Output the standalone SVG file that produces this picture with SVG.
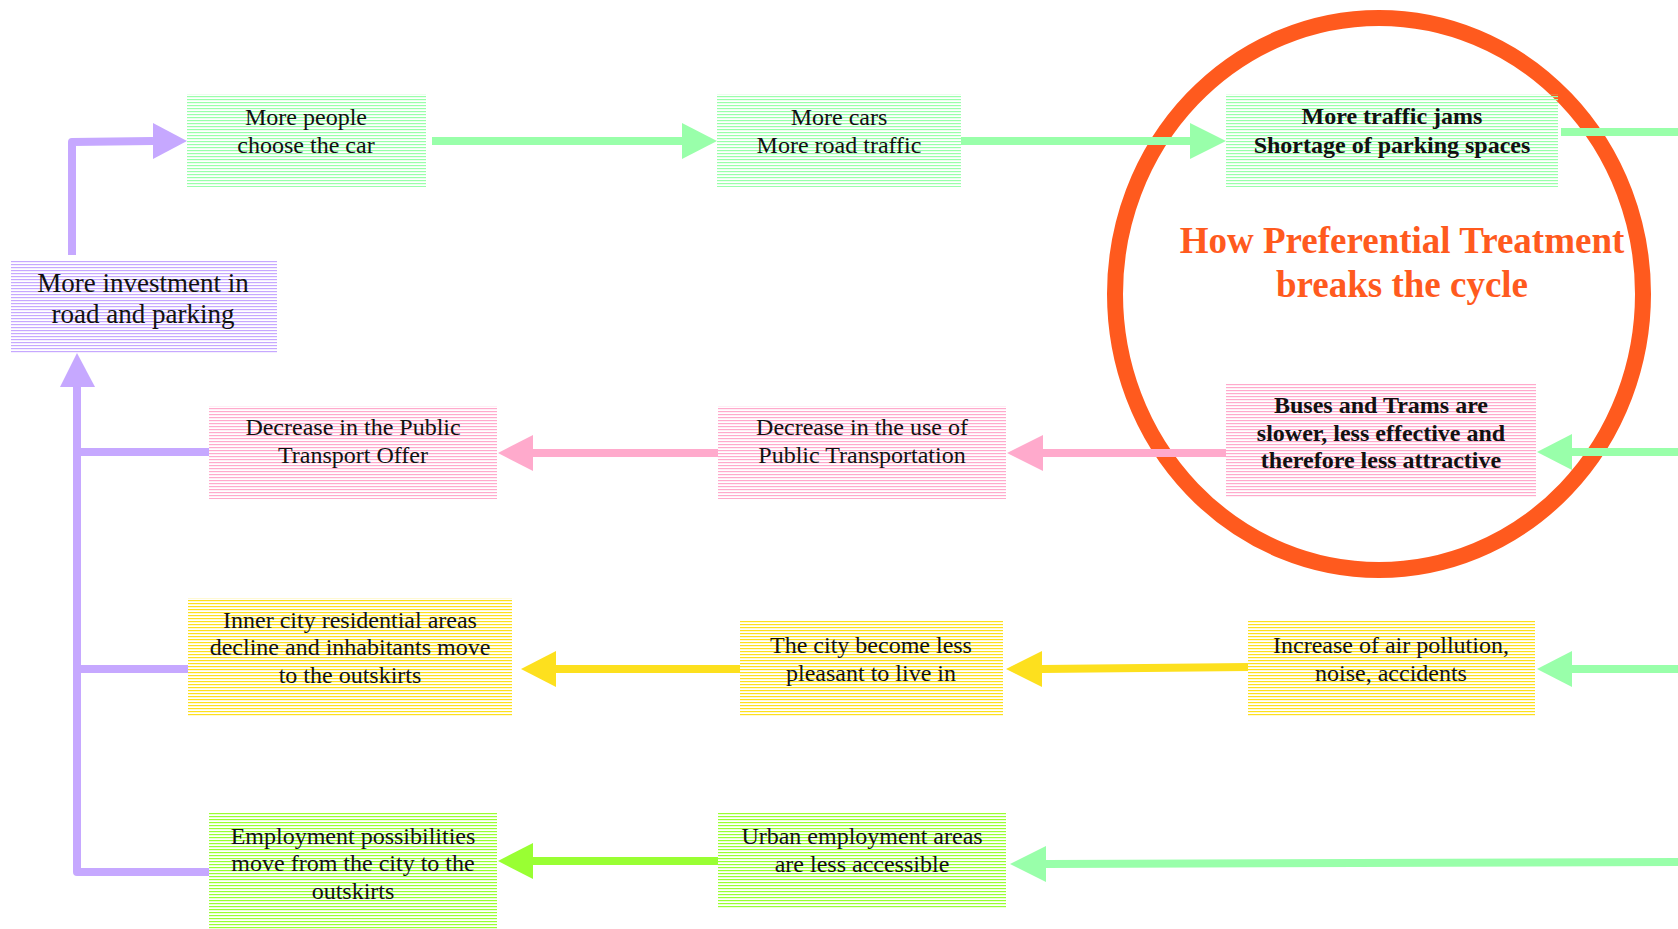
<svg xmlns="http://www.w3.org/2000/svg" width="1678" height="929" viewBox="0 0 1678 929">
<style>
text{font-family:"Liberation Serif","Times New Roman",serif;fill:#111;text-anchor:middle;font-size:24px}
.b{font-weight:bold;font-size:24px}
.big{font-size:27px}
.title{font-weight:bold;font-size:37px;fill:#FF5A1E}
.cg{stroke:#99FFAA;stroke-width:8;fill:none}
.cp{stroke:#FFAACC;stroke-width:8;fill:none}
.cy{stroke:#FDE01E;stroke-width:8;fill:none}
.cc{stroke:#99FF33;stroke-width:8;fill:none}
.cv{stroke:#C6A8FF;stroke-width:8;fill:none;stroke-linejoin:round}
</style>
<defs>
<pattern id="pg" patternUnits="userSpaceOnUse" width="10" height="3"><rect x="0" y="0" width="10" height="1.2" fill="#99FFAA"/></pattern>
<pattern id="pp" patternUnits="userSpaceOnUse" width="10" height="3"><rect x="0" y="0" width="10" height="1.2" fill="#FFAACC"/></pattern>
<pattern id="py" patternUnits="userSpaceOnUse" width="10" height="3"><rect x="0" y="0" width="10" height="1.2" fill="#FDE01E"/></pattern>
<pattern id="pc" patternUnits="userSpaceOnUse" width="10" height="3"><rect x="0" y="0" width="10" height="1.2" fill="#99FF33"/></pattern>
<pattern id="pv" patternUnits="userSpaceOnUse" width="10" height="3"><rect x="0" y="0" width="10" height="1.2" fill="#C6A8FF"/></pattern>
</defs>
<rect width="1678" height="929" fill="#fff"/>
<ellipse id="ring" cx="1379" cy="294" rx="264" ry="276" fill="none" stroke="#FF5A1E" stroke-width="16"/>
<g id="connectors">
<path class="cv" d="M72 255 L72 142 L153 141"/>
<polygon points="153,123 187,141 153,159" fill="#C6A8FF"/>
<path class="cg" d="M432 141 L682 141"/>
<polygon points="682,123 717,141 682,159" fill="#99FFAA"/>
<path class="cg" d="M961 141 L1190 141"/>
<polygon points="1190,123 1226,141 1190,159" fill="#99FFAA"/>
<path class="cg" d="M1561 132 L1678 132"/>
<path class="cg" d="M1678 452 L1572 452"/>
<polygon points="1572,434 1537,452 1572,470" fill="#99FFAA"/>
<path class="cp" d="M1226 453 L1043 453"/>
<polygon points="1043,435 1007,453 1043,471" fill="#FFAACC"/>
<path class="cp" d="M718 453 L533 453"/>
<polygon points="533,435 498,453 533,471" fill="#FFAACC"/>
<path class="cg" d="M1678 669 L1572 669"/>
<polygon points="1572,651 1537,669 1572,687" fill="#99FFAA"/>
<path class="cy" d="M1248 667 L1042 669"/>
<polygon points="1042,651 1006,669 1042,687" fill="#FDE01E"/>
<path class="cy" d="M740 669 L556 669"/>
<polygon points="556,651 521,669 556,687" fill="#FDE01E"/>
<path class="cg" d="M1678 862 L1046 864"/>
<polygon points="1046,846 1010,864 1046,882" fill="#99FFAA"/>
<path class="cc" d="M718 861 L533 861"/>
<polygon points="533,843 498,861 533,879" fill="#99FF33"/>
<path class="cv" d="M209 872 L77 872 L77 387"/>
<path class="cv" d="M77 452 L209 452"/>
<path class="cv" d="M77 669 L188 669"/>
<polygon points="60,387 77,353 95,387" fill="#C6A8FF"/>
</g>
<g id="n-people"><rect x="187" y="94" width="239" height="93" fill="url(#pg)"/><text x="306" y="125">More people</text><text x="306" y="153">choose the car</text></g>
<g id="n-cars"><rect x="717" y="94" width="244" height="93" fill="url(#pg)"/><text x="839" y="125">More cars</text><text x="839" y="153">More road traffic</text></g>
<g id="n-jams"><rect x="1226" y="94" width="332" height="93" fill="url(#pg)"/><text class="b" x="1392" y="124">More traffic jams</text><text class="b" x="1392" y="153">Shortage of parking spaces</text></g>
<g id="n-invest"><rect x="11" y="260" width="266" height="93" fill="url(#pv)"/><text class="big" x="143" y="292">More investment in</text><text class="big" x="143" y="323">road and parking</text></g>
<g id="n-offer"><rect x="209" y="406" width="288" height="93" fill="url(#pp)"/><text x="353" y="435">Decrease in the Public</text><text x="353" y="463">Transport Offer</text></g>
<g id="n-use"><rect x="718" y="406" width="288" height="93" fill="url(#pp)"/><text x="862" y="435">Decrease in the use of</text><text x="862" y="463">Public Transportation</text></g>
<g id="n-buses"><rect x="1226" y="383" width="310" height="115" fill="url(#pp)"/><text class="b" x="1381" y="413">Buses and Trams are</text><text class="b" x="1381" y="441">slower, less effective and</text><text class="b" x="1381" y="468">therefore less attractive</text></g>
<g id="n-inner"><rect x="188" y="598" width="324" height="118" fill="url(#py)"/><text x="350" y="628">Inner city residential areas</text><text x="350" y="655">decline and inhabitants move</text><text x="350" y="683">to the outskirts</text></g>
<g id="n-pleasant"><rect x="740" y="621" width="263" height="95" fill="url(#py)"/><text x="871" y="653">The city become less</text><text x="871" y="681">pleasant to live in</text></g>
<g id="n-pollution"><rect x="1248" y="621" width="287" height="96" fill="url(#py)"/><text x="1391" y="653">Increase of air pollution,</text><text x="1391" y="681">noise, accidents</text></g>
<g id="n-employ"><rect x="209" y="813" width="288" height="116" fill="url(#pc)"/><text x="353" y="844">Employment possibilities</text><text x="353" y="871">move from the city to the</text><text x="353" y="899">outskirts</text></g>
<g id="n-urban"><rect x="718" y="813" width="288" height="95" fill="url(#pc)"/><text x="862" y="844">Urban employment areas</text><text x="862" y="872">are less accessible</text></g>
<g id="title"><text class="title" x="1402" y="253">How Preferential Treatment</text><text class="title" x="1402" y="297">breaks the cycle</text></g>
</svg>
